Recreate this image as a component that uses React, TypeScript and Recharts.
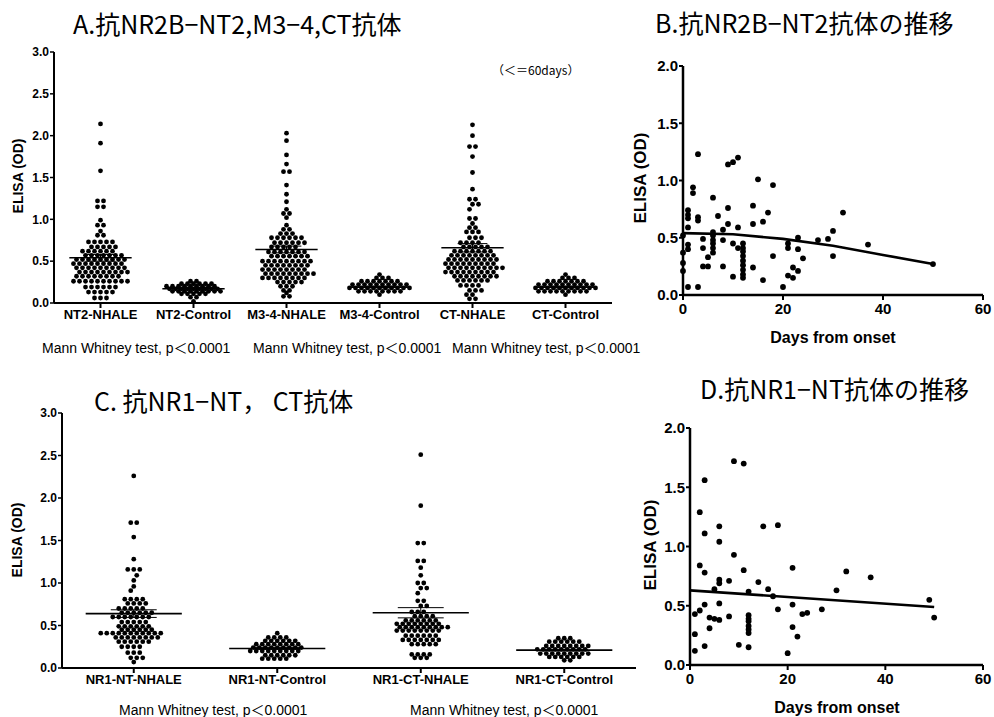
import React from 'react';
import { ScatterChart, Scatter, XAxis, YAxis, ReferenceLine } from 'recharts';

// each row: [OD value, number of dots drawn side by side at that value]
type Row = [number, number];

const A_CATEGORIES = ['NT2-NHALE', 'NT2-Control', 'M3-4-NHALE', 'M3-4-Control', 'CT-NHALE', 'CT-Control'];

const NT2_NHALE: Row[] = [
  [2.14, 1], [1.91, 1], [1.58, 1], [1.22, 2], [1.15, 2], [0.99, 1], [0.93, 2], [0.86, 1], [0.81, 2],
  [0.73, 5], [0.67, 5], [0.62, 6], [0.57, 7], [0.52, 9], [0.47, 9], [0.42, 9], [0.37, 9], [0.32, 8],
  [0.26, 10], [0.19, 6], [0.13, 5], [0.06, 3],
];
const NT2_CONTROL: Row[] = [
  [0.26, 2], [0.23, 6], [0.2, 9], [0.17, 9], [0.14, 9], [0.11, 5], [0.07, 2], [0.02, 1],
];
const M34_NHALE: Row[] = [
  [2.03, 1], [1.94, 1], [1.77, 1], [1.66, 1], [1.57, 2], [1.41, 1], [1.3, 1], [1.21, 1], [1.12, 1],
  [1.07, 2], [1.02, 1], [0.93, 1], [0.88, 2], [0.83, 3], [0.78, 6], [0.72, 6], [0.67, 5], [0.61, 7],
  [0.56, 7], [0.5, 9], [0.45, 8], [0.4, 8], [0.35, 9], [0.3, 8], [0.25, 5], [0.2, 3], [0.15, 2],
  [0.12, 1], [0.08, 2],
];
const M34_CONTROL: Row[] = [
  [0.34, 1], [0.3, 3], [0.26, 7], [0.22, 10], [0.18, 11], [0.14, 8], [0.1, 1],
];
const CT_NHALE: Row[] = [
  [2.13, 1], [2.0, 1], [1.87, 2], [1.75, 1], [1.56, 1], [1.36, 1], [1.24, 2], [1.18, 2], [1.12, 1],
  [1.01, 2], [0.95, 1], [0.9, 2], [0.85, 3], [0.78, 3], [0.72, 4], [0.67, 5], [0.62, 7], [0.57, 8],
  [0.52, 9], [0.47, 9], [0.42, 10], [0.37, 9], [0.32, 8], [0.27, 6], [0.21, 4], [0.15, 3], [0.1, 2],
  [0.05, 2],
];
const CT_CONTROL: Row[] = [
  [0.34, 1], [0.3, 3], [0.26, 7], [0.22, 10], [0.18, 11], [0.14, 9], [0.1, 1],
];
const A_MEANS = [0.54, 0.17, 0.64, 0.19, 0.66, 0.19];
const A_SEMS = [0.04, 0.01, 0.04, 0.01, 0.05, 0.01];

const C_CATEGORIES = ['NR1-NT-NHALE', 'NR1-NT-Control', 'NR1-CT-NHALE', 'NR1-CT-Control'];

const NR1_NT_NHALE: Row[] = [
  [2.26, 1], [1.71, 2], [1.54, 1], [1.28, 1], [1.16, 3], [1.09, 1], [1.03, 1], [0.96, 1], [0.91, 1],
  [0.81, 4], [0.76, 4], [0.7, 5], [0.65, 6], [0.6, 7], [0.54, 5], [0.49, 6], [0.45, 6], [0.41, 11],
  [0.36, 8], [0.31, 6], [0.25, 4], [0.18, 3], [0.12, 3], [0.07, 1],
];
const NR1_NT_CONTROL: Row[] = [
  [0.41, 1], [0.36, 4], [0.32, 6], [0.28, 8], [0.24, 9], [0.2, 9], [0.15, 6], [0.11, 5],
];
const NR1_CT_NHALE: Row[] = [
  [2.51, 1], [1.91, 1], [1.47, 2], [1.26, 2], [1.18, 1], [1.09, 1], [1.0, 2], [0.94, 2], [0.88, 1],
  [0.79, 2], [0.73, 2], [0.66, 3], [0.61, 4], [0.56, 6], [0.52, 8], [0.48, 9], [0.44, 8], [0.38, 6],
  [0.33, 7], [0.28, 5], [0.16, 4], [0.12, 3],
];
const NR1_CT_CONTROL: Row[] = [
  [0.35, 3], [0.31, 6], [0.26, 8], [0.22, 9], [0.17, 9], [0.13, 6], [0.09, 2],
];
const C_MEANS = [0.64, 0.23, 0.65, 0.21];
const C_SEMS = [0.045, 0.01, 0.06, 0.01];

// [days from onset, ELISA OD]
const B_POINTS = [
  [3, 1.23], [9, 1.14], [10, 1.16], [11, 1.2], [15, 1.01], [18, 0.96], [2, 0.94], [2, 0.89], [6, 0.85],
  [1, 0.74], [1, 0.7], [1, 0.67], [3, 0.68], [3, 0.65], [14, 0.78], [17, 0.72], [7, 0.69], [9, 0.76],
  [9, 0.62], [14, 0.62], [16, 0.64], [1, 0.59], [11, 0.59], [6, 0.55], [6, 0.52], [6, 0.48], [6, 0.45],
  [6, 0.41], [6, 0.37], [8, 0.57], [8, 0.48], [30, 0.56], [32, 0.72], [4, 0.49], [4, 0.41], [1, 0.44],
  [1, 0.4], [0, 0.52], [0, 0.37], [0, 0.28], [0, 0.21], [10, 0.45], [11, 0.41], [12, 0.45], [12, 0.41],
  [12, 0.38], [12, 0.34], [12, 0.3], [12, 0.26], [12, 0.22], [12, 0.18], [12, 0.15], [21, 0.45],
  [21, 0.41], [23, 0.5], [23, 0.4], [24, 0.32], [27, 0.48], [29, 0.49], [30, 0.34], [37, 0.44],
  [18, 0.34], [5, 0.33], [4, 0.25], [5, 0.25], [8, 0.25], [14, 0.24], [10, 0.16], [16, 0.13],
  [21, 0.17], [22, 0.15], [22, 0.24], [23, 0.21], [20, 0.07], [1, 0.07], [3, 0.07], [50, 0.27],
];
const B_FIT = [[0, 0.54], [10, 0.53], [20, 0.49], [30, 0.43], [40, 0.35], [50, 0.27]];

const D_POINTS = [
  [9, 1.72], [11, 1.7], [3, 1.56], [2, 1.29], [3, 1.11], [6, 1.17], [6, 1.04], [15, 1.17], [18, 1.18],
  [9, 0.93], [2, 0.84], [3, 0.78], [11, 0.8], [21, 0.82], [32, 0.79], [37, 0.74], [6, 0.72], [6, 0.69],
  [8, 0.71], [14, 0.7], [30, 0.63], [5, 0.64], [16, 0.64], [17, 0.58], [12, 0.62], [3, 0.51], [6, 0.52],
  [21, 0.51], [2, 0.46], [1, 0.43], [18, 0.47], [27, 0.47], [23, 0.43], [24, 0.44], [4, 0.4], [5, 0.39],
  [6, 0.38], [8, 0.41], [12, 0.42], [12, 0.39], [12, 0.37], [12, 0.33], [12, 0.3], [12, 0.27], [4, 0.31],
  [21, 0.32], [22, 0.24], [1, 0.26], [50, 0.4], [49, 0.55], [10, 0.17], [3, 0.16], [12, 0.15], [1, 0.12],
  [20, 0.1],
];
const D_FIT = [[0, 0.63], [50, 0.49]];

const OD_TICKS = [0, 0.5, 1, 1.5, 2, 2.5, 3];
const TREND_TICKS = [0, 0.5, 1, 1.5, 2];
const DAY_TICKS = [0, 20, 40, 60];

const BOLD = "'Liberation Sans', Arial, sans-serif";
const JP = "'Noto Sans CJK JP', sans-serif";
const NARROW = "'Liberation Sans Narrow', 'Liberation Sans', 'Noto Sans CJK JP', sans-serif";
const DOT_GAP = 6;

// spread the dots of each row sideways around the group centre (beeswarm);
// neighbouring rows are staggered by half a gap so the dots pack like Prism's
function swarm(groups: Row[][], bandPx: number) {
  const pts: { x: number; y: number }[] = [];
  groups.forEach((rows, gi) => {
    let prevV = Infinity;
    let prevFrac = -1;
    let flip = 1;
    rows.forEach(([v, n]) => {
      let shift = 0;
      let frac = ((n - 1) / 2) % 1;
      if (Math.abs(prevV - v) < 0.07 && frac === prevFrac) {
        shift = 0.5 * flip;
        flip = -flip;
        frac = (frac + 0.5) % 1;
      }
      for (let k = 0; k < n; k++) {
        pts.push({ x: gi + ((k - (n - 1) / 2 + shift) * DOT_GAP) / bandPx, y: v });
      }
      prevV = v;
      prevFrac = frac;
    });
  });
  return pts;
}

const toXY = (arr: number[][]) => arr.map(([x, y]) => ({ x, y }));

function Txt({ x, y, size, children, bold = false, family = BOLD, middle = false, rotate = false }: any) {
  const tx = middle || rotate ? '-50%' : '0';
  return (
    <div
      style={{
        position: 'absolute', left: x, top: y, whiteSpace: 'nowrap', lineHeight: 1,
        fontSize: size, fontWeight: bold ? 700 : 400, fontFamily: family, color: '#000',
        transform: `translate(${tx}, -50%)${rotate ? ' rotate(-90deg)' : ''}`,
      }}
    >
      {children}
    </div>
  );
}

const dot = (r: number) => (p: any) => <circle cx={p.cx} cy={p.cy} r={r} fill="#000" />;

function SwarmPanel({ left, top, width, height, margin, yWidth, cats, groups, means, sems }: any) {
  const bandPx = (width - margin.left - margin.right - yWidth) / cats.length;
  const pts = swarm(groups, bandPx);
  return (
    <div style={{ position: 'absolute', left, top }}>
      <ScatterChart width={width} height={height} margin={margin}>
        <XAxis
          type="number" dataKey="x" domain={[-0.5, cats.length - 0.5]} ticks={cats.map((_: string, i: number) => i)}
          interval={0} tickFormatter={(v: number) => cats[v]} height={30} tickSize={5}
          axisLine={{ stroke: '#000', strokeWidth: 2 }} tickLine={{ stroke: '#000', strokeWidth: 2 }}
          tick={{ fill: '#000', fontSize: 13, fontWeight: 700, fontFamily: BOLD }}
        />
        <YAxis
          type="number" dataKey="y" domain={[0, 3]} ticks={OD_TICKS} width={yWidth} tickSize={4} tickMargin={1}
          tickFormatter={(v: number) => v.toFixed(1)}
          axisLine={{ stroke: '#000', strokeWidth: 2 }} tickLine={{ stroke: '#000', strokeWidth: 1.5 }}
          tick={{ fill: '#000', fontSize: 12, fontWeight: 700, fontFamily: BOLD }}
        />
        <Scatter data={pts} shape={dot(2.4)} isAnimationActive={false} />
        {means.map((m: number, i: number) => (
          <React.Fragment key={i}>
            <ReferenceLine segment={[{ x: i - 0.335, y: m }, { x: i + 0.335, y: m }]} stroke="#000" strokeWidth={1.6} />
            <ReferenceLine segment={[{ x: i - 0.16, y: m + sems[i] }, { x: i + 0.16, y: m + sems[i] }]} stroke="#000" strokeWidth={1} />
            <ReferenceLine segment={[{ x: i - 0.16, y: m - sems[i] }, { x: i + 0.16, y: m - sems[i] }]} stroke="#000" strokeWidth={1} />
            <ReferenceLine segment={[{ x: i, y: m - sems[i] }, { x: i, y: m + sems[i] }]} stroke="#000" strokeWidth={1} />
          </React.Fragment>
        ))}
      </ScatterChart>
    </div>
  );
}

function TrendPanel({ left, top, width, height, margin, yWidth, points, fit }: any) {
  return (
    <div style={{ position: 'absolute', left, top }}>
      <ScatterChart width={width} height={height} margin={margin}>
        <XAxis
          type="number" dataKey="x" domain={[0, 60]} ticks={DAY_TICKS} interval={0} height={30} tickSize={5}
          tickMargin={3}
          axisLine={{ stroke: '#000', strokeWidth: 2.5 }} tickLine={{ stroke: '#000', strokeWidth: 2 }}
          tick={{ fill: '#000', fontSize: 15, fontWeight: 700, fontFamily: BOLD }}
        />
        <YAxis
          type="number" dataKey="y" domain={[0, 2]} ticks={TREND_TICKS} width={yWidth} tickSize={4} tickMargin={1}
          tickFormatter={(v: number) => v.toFixed(1)}
          axisLine={{ stroke: '#000', strokeWidth: 2.5 }} tickLine={{ stroke: '#000', strokeWidth: 2 }}
          tick={{ fill: '#000', fontSize: 15, fontWeight: 700, fontFamily: BOLD }}
        />
        <Scatter data={toXY(points)} shape={dot(2.9)} isAnimationActive={false} />
        <Scatter
          data={toXY(fit)} shape={() => <g />} line={{ stroke: '#000', strokeWidth: 2.6 }}
          isAnimationActive={false}
        />
      </ScatterChart>
    </div>
  );
}

const MW = 'Mann Whitney test, p＜0.0001';

export default function App() {
  return (
    <div style={{ position: 'absolute', left: 0, top: 0, width: 994, height: 717, background: '#fff', overflow: 'hidden' }}>
      <SwarmPanel
        left={0} top={0} width={640} height={345} yWidth={54}
        margin={{ top: 52, right: 28, left: 0, bottom: 12 }}
        cats={A_CATEGORIES} groups={[NT2_NHALE, NT2_CONTROL, M34_NHALE, M34_CONTROL, CT_NHALE, CT_CONTROL]}
        means={A_MEANS} sems={A_SEMS}
      />
      <SwarmPanel
        left={0} top={360} width={640} height={357} yWidth={62}
        margin={{ top: 53, right: 4, left: 0, bottom: 19 }}
        cats={C_CATEGORIES} groups={[NR1_NT_NHALE, NR1_NT_CONTROL, NR1_CT_NHALE, NR1_CT_CONTROL]}
        means={C_MEANS} sems={C_SEMS}
      />
      <TrendPanel
        left={600} top={0} width={394} height={360} yWidth={83}
        margin={{ top: 66, right: 11, left: 0, bottom: 35 }} points={B_POINTS} fit={B_FIT}
      />
      <TrendPanel
        left={600} top={360} width={394} height={357} yWidth={90}
        margin={{ top: 68, right: 11, left: 0, bottom: 22 }} points={D_POINTS} fit={D_FIT}
      />

      <Txt x={73} y={23} size={25} family={JP}>A.抗NR2B−NT2,M3−4,CT抗体</Txt>
      <Txt x={655} y={22} size={25} family={JP}>B.抗NR2B−NT2抗体の推移</Txt>
      <Txt x={94} y={400} size={25} family={JP}>C. 抗NR1−NT， CT抗体</Txt>
      <Txt x={700} y={388} size={25} family={JP}>D.抗NR1−NT抗体の推移</Txt>

      <Txt x={492} y={70} size={12} family={JP}>（＜＝60days）</Txt>

      <Txt x={18} y={176} size={14} bold rotate>ELISA (OD)</Txt>
      <Txt x={17} y={540} size={14} bold rotate>ELISA (OD)</Txt>
      <Txt x={640} y={178} size={17} bold rotate>ELISA (OD)</Txt>
      <Txt x={650} y={545} size={17} bold rotate>ELISA (OD)</Txt>
      <Txt x={833} y={338} size={16} bold middle>Days from onset</Txt>
      <Txt x={837} y={708} size={16} bold middle>Days from onset</Txt>

      <Txt x={42} y={348} size={14} family={NARROW}>{MW}</Txt>
      <Txt x={253} y={348} size={14} family={NARROW}>{MW}</Txt>
      <Txt x={452} y={348} size={14} family={NARROW}>{MW}</Txt>
      <Txt x={119} y={710} size={14} family={NARROW}>{MW}</Txt>
      <Txt x={410} y={710} size={14} family={NARROW}>{MW}</Txt>
    </div>
  );
}
